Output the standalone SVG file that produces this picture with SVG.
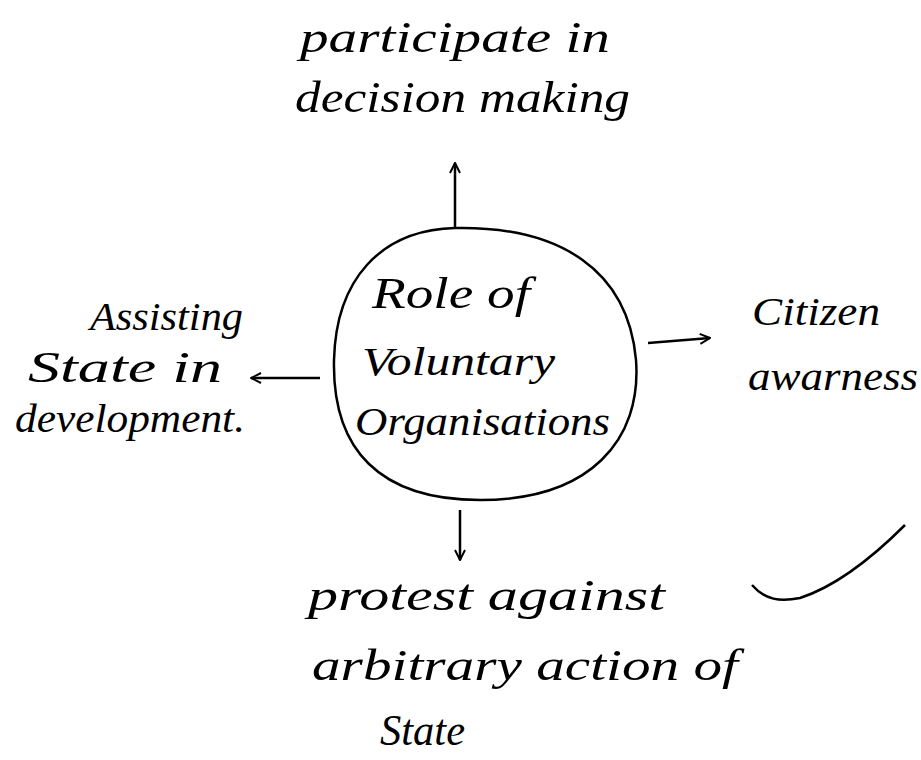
<svg xmlns="http://www.w3.org/2000/svg" width="921" height="760" viewBox="0 0 921 760">
<defs>
<marker id="ah" viewBox="0 0 12 12" refX="11" refY="6" markerWidth="12" markerHeight="12" markerUnits="userSpaceOnUse" orient="auto">
<path d="M1,1 L11,6 L1,11" fill="none" stroke="#000" stroke-width="2"/>
</marker>
<style>
text{font-family:"Liberation Serif",serif;font-style:italic;font-size:40px;fill:#000}
.b{font-size:45px}
.c{stroke:#000;stroke-width:2.5;fill:none}
</style>
</defs>
<rect width="921" height="760" fill="#fff"/>
<g id="center">
<path class="c" d="M455,228 C560,226 628,270 636,360 C642,440 590,500 480,500 C380,500 332,450 334,360 C336,280 380,230 455,228 Z"/>
<text class="b" x="372" y="308" textLength="158" lengthAdjust="spacingAndGlyphs">Role of</text>
<text x="362" y="375" textLength="193" lengthAdjust="spacingAndGlyphs">Voluntary</text>
<text x="355" y="435" textLength="255" lengthAdjust="spacingAndGlyphs">Organisations</text>
</g>
<g id="top">
<text class="b" x="300" y="52" textLength="310" lengthAdjust="spacingAndGlyphs">participate in</text>
<text class="b" x="295" y="112" textLength="335" lengthAdjust="spacingAndGlyphs">decision making</text>
</g>
<g id="left">
<text x="90" y="330" textLength="153" lengthAdjust="spacingAndGlyphs">Assisting</text>
<text class="b" x="28" y="382" textLength="194" lengthAdjust="spacingAndGlyphs">State in</text>
<text x="15" y="432" textLength="230" lengthAdjust="spacingAndGlyphs">development.</text>
</g>
<g id="right">
<text x="752" y="325" textLength="128" lengthAdjust="spacingAndGlyphs">Citizen</text>
<text x="748" y="390" textLength="170" lengthAdjust="spacingAndGlyphs">awarness</text>
</g>
<g id="bottom">
<text class="b" x="308" y="610" textLength="357" lengthAdjust="spacingAndGlyphs">protest against</text>
<text class="b" x="312" y="680" textLength="426" lengthAdjust="spacingAndGlyphs">arbitrary action of</text>
<text class="b" x="380" y="745" textLength="85" lengthAdjust="spacingAndGlyphs">State</text>
</g>
<g id="connectors">
<line class="c" x1="455" y1="228" x2="455" y2="163" marker-end="url(#ah)"/>
<line class="c" x1="320" y1="378" x2="251" y2="378" marker-end="url(#ah)"/>
<line class="c" x1="648" y1="343" x2="710" y2="338" marker-end="url(#ah)"/>
<line class="c" x1="460" y1="510" x2="460" y2="560" marker-end="url(#ah)"/>
</g>
<path class="c" d="M752,585 C765,600 780,602 800,598 C840,585 880,550 905,525"/>
</svg>
